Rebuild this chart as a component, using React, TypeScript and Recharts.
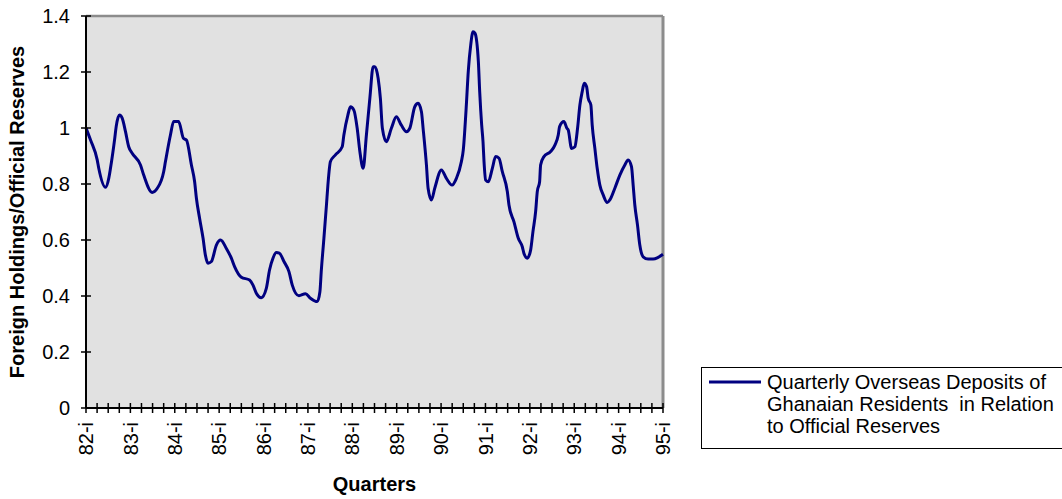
import React from "react";
import {
  LineChart,
  Line,
  XAxis,
  YAxis,
  CartesianGrid,
  ReferenceLine,
} from "recharts";

// x position in quarters since 82-i
const QUARTER_POS = [
  0, 0.41, 1.01, 1.15, 1.76, 2.05, 2.21, 2.59, 2.72, 3.02, 3.26, 3.56, 3.85,
  4.16, 4.91, 5.2, 5.96, 6.41, 7.0, 7.16, 7.61, 7.9, 8.35, 8.78, 9.05, 9.5,
  9.79, 9.95, 10.24, 10.55, 10.76, 11.0, 11.3, 11.75, 12.13, 12.65, 13.1, 13.39,
  14.0, 14.74, 15.05, 15.35, 15.8, 16.25, 16.54, 16.85, 17.15, 17.42, 17.84,
  18.29, 18.59, 19.19, 19.78, 20.23, 20.84, 21.08, 21.2, 21.44, 21.67, 21.8,
  22.03, 22.48, 23.09, 23.24, 23.6, 23.83, 24.14, 24.44, 24.68, 24.98, 25.27,
  25.58, 25.88, 26.03, 26.33, 26.53, 26.71, 27.07, 27.52, 27.97, 28.42, 28.88,
  29.18, 29.63, 29.93, 30.23, 30.38, 30.68, 30.83, 31.13, 31.43, 32.03, 32.48,
  32.99, 33.38, 33.83, 34.0, 34.25, 34.46, 34.67, 34.88, 35.06, 35.36, 35.48,
  35.66, 35.78, 35.87, 36.02, 36.26, 36.62, 36.92, 37.22, 37.52, 37.97, 38.12,
  38.57, 38.96, 39.32, 39.47, 39.77, 40.07, 40.28, 40.52, 40.67, 40.88, 40.97,
  41.27, 41.87, 42.26, 42.56, 42.68, 43.07, 43.34, 43.46, 43.76, 44.06, 44.3,
  44.51, 44.72, 44.9, 45.11, 45.26, 45.5, 45.62, 45.86, 46.07, 46.31, 46.61,
  46.97, 47.21, 47.66, 48.11, 48.56, 48.86, 49.16, 49.31, 49.46, 49.7, 49.91,
  50.21, 50.66, 51.11, 51.56, 52,
];

// foreign holdings / official reserves
const RATIO = [
  1.0, 0.957, 0.886, 0.856, 0.788, 0.82, 0.857, 0.963, 1.005, 1.046, 1.035,
  0.987, 0.933, 0.91, 0.868, 0.832, 0.77, 0.784, 0.844, 0.88, 0.975, 1.023,
  1.023, 0.963, 0.957, 0.868, 0.808, 0.749, 0.677, 0.606, 0.546, 0.517, 0.523,
  0.582, 0.6, 0.57, 0.535, 0.505, 0.467, 0.457, 0.439, 0.41, 0.394, 0.427,
  0.493, 0.535, 0.555, 0.553, 0.523, 0.487, 0.439, 0.401, 0.408, 0.392, 0.38,
  0.415, 0.487, 0.606, 0.725, 0.796, 0.88, 0.904, 0.933, 0.975, 1.046, 1.076,
  1.064, 0.999, 0.916, 0.856, 0.975, 1.106, 1.219, 1.219, 1.177, 1.106, 0.999,
  0.951, 0.999, 1.04, 1.01, 0.987, 0.999, 1.076, 1.088, 1.058, 0.999, 0.868,
  0.785, 0.743, 0.785, 0.85, 0.82, 0.796, 0.82, 0.88, 0.921, 1.064, 1.207,
  1.296, 1.344, 1.338, 1.237, 1.13, 1.01, 0.951, 0.88, 0.814, 0.808, 0.856,
  0.898, 0.892, 0.844, 0.773, 0.725, 0.665, 0.606, 0.576, 0.552, 0.535, 0.564,
  0.63, 0.701, 0.773, 0.808, 0.868, 0.898, 0.916, 0.939, 0.975, 1.005, 1.023,
  0.999, 0.993, 0.927, 0.933, 0.999, 1.082, 1.13, 1.16, 1.148, 1.106, 1.082,
  1.01, 0.927, 0.856, 0.796, 0.761, 0.734, 0.743, 0.785, 0.832, 0.868, 0.886,
  0.862, 0.796, 0.725, 0.654, 0.582, 0.54, 0.532, 0.532, 0.538, 0.549,
];

const YEAR_LABELS = [
  "82-i", "83-i", "84-i", "85-i", "86-i", "87-i", "88-i",
  "89-i", "90-i", "91-i", "92-i", "93-i", "94-i", "95-i",
];

const Y_TICKS = [0, 0.2, 0.4, 0.6, 0.8, 1, 1.2, 1.4];

const data = QUARTER_POS.map((q, i) => ({ q, ratio: RATIO[i] }));
const quarterTicks = Array.from({ length: YEAR_LABELS.length * 4 - 3 }, (_, i) => i);

const FONT = "Arial, 'Liberation Sans', sans-serif";
const NAVY = "#000080";
const FS = 20;
const X_TICK_GAP = 14;

const XTick = (props: any) => {
  const { x, y, payload } = props;
  const axisY = y - X_TICK_GAP;
  const v = payload.value;
  const label = v % 4 === 0 ? YEAR_LABELS[v / 4] : "";
  return (
    <g>
      <line x1={x} x2={x} y1={axisY - 5} y2={axisY + 5} stroke="#000" strokeWidth={1.5} />
      {label && (
        <text
          x={x}
          y={y}
          dy="0.36em"
          transform={`rotate(-90 ${x} ${y})`}
          textAnchor="end"
          fontFamily={FONT}
          fontSize={FS}
          fill="#000"
        >
          {label}
        </text>
      )}
    </g>
  );
};

const YTick = (props: any) => {
  const { x, y, payload } = props;
  const axisX = x + 16;
  return (
    <g>
      <line x1={axisX - 5} x2={axisX + 5} y1={y} y2={y} stroke="#000" strokeWidth={1.5} />
      <text x={x} y={y} dy="0.36em" textAnchor="end" fontFamily={FONT} fontSize={FS} fill="#000">
        {String(+Number(payload.value).toFixed(1))}
      </text>
    </g>
  );
};

export default function App() {
  return (
    <div
      style={{
        position: "absolute",
        left: 0,
        top: 0,
        width: 1062,
        height: 499,
        overflow: "hidden",
        background: "#fff",
      }}
    >
      <LineChart
        width={1062}
        height={499}
        data={data}
        margin={{ top: 16, right: 399, left: 0, bottom: 31 }}
      >
        <CartesianGrid fill="#e1e1e1" horizontal={false} vertical={false} />
        <ReferenceLine y={1.4} stroke="#8c8c8c" strokeWidth={2.5} />
        <ReferenceLine x={52} stroke="#8c8c8c" strokeWidth={3} />
        <XAxis
          dataKey="q"
          type="number"
          domain={[0, 52]}
          ticks={quarterTicks}
          interval={0}
          tickSize={0}
          tickMargin={X_TICK_GAP}
          tickLine={false}
          tick={<XTick />}
          height={60}
          axisLine={{ stroke: "#000", strokeWidth: 2 }}
          label={{
            content: ({ viewBox }: any) => (
              <text
                x={viewBox.x + viewBox.width / 2}
                y={viewBox.y + 83}
                textAnchor="middle"
                fontFamily={FONT}
                fontSize={FS}
                fontWeight="bold"
                fill="#000"
              >
                Quarters
              </text>
            ),
          }}
        />
        <YAxis
          type="number"
          domain={[0, 1.4]}
          ticks={Y_TICKS}
          interval={0}
          tickSize={0}
          tickMargin={16}
          tickLine={false}
          tick={<YTick />}
          width={86}
          axisLine={{ stroke: "#000", strokeWidth: 2 }}
          label={{
            content: ({ viewBox }: any) => {
              const cx = 17;
              const cy = viewBox.y + viewBox.height / 2;
              return (
                <text
                  x={cx}
                  y={cy}
                  transform={`rotate(-90 ${cx} ${cy})`}
                  textAnchor="middle"
                  dominantBaseline="central"
                  fontFamily={FONT}
                  fontSize={FS}
                  fontWeight="bold"
                  fill="#000"
                >
                  Foreign Holdings/Official Reserves
                </text>
              );
            },
          }}
        />
        <Line
          type="monotone"
          dataKey="ratio"
          stroke={NAVY}
          strokeWidth={3}
          strokeLinejoin="round"
          dot={false}
          activeDot={false}
          isAnimationActive={false}
        />
      </LineChart>
      <div
        style={{
          position: "absolute",
          left: 701,
          top: 367,
          width: 370,
          height: 82,
          border: "1px solid #000",
          boxSizing: "border-box",
          fontFamily: FONT,
          fontSize: FS,
          lineHeight: "22px",
          color: "#000",
        }}
      >
        <svg width={54} height={10} style={{ position: "absolute", left: 7, top: 9 }}>
          <line x1={0} x2={52} y1={5} y2={5} stroke={NAVY} strokeWidth={3} />
        </svg>
        <div style={{ position: "absolute", left: 65, top: 3, whiteSpace: "pre" }}>
          {"Quarterly Overseas Deposits of\nGhanaian Residents  in Relation\nto Official Reserves"}
        </div>
      </div>
    </div>
  );
}
